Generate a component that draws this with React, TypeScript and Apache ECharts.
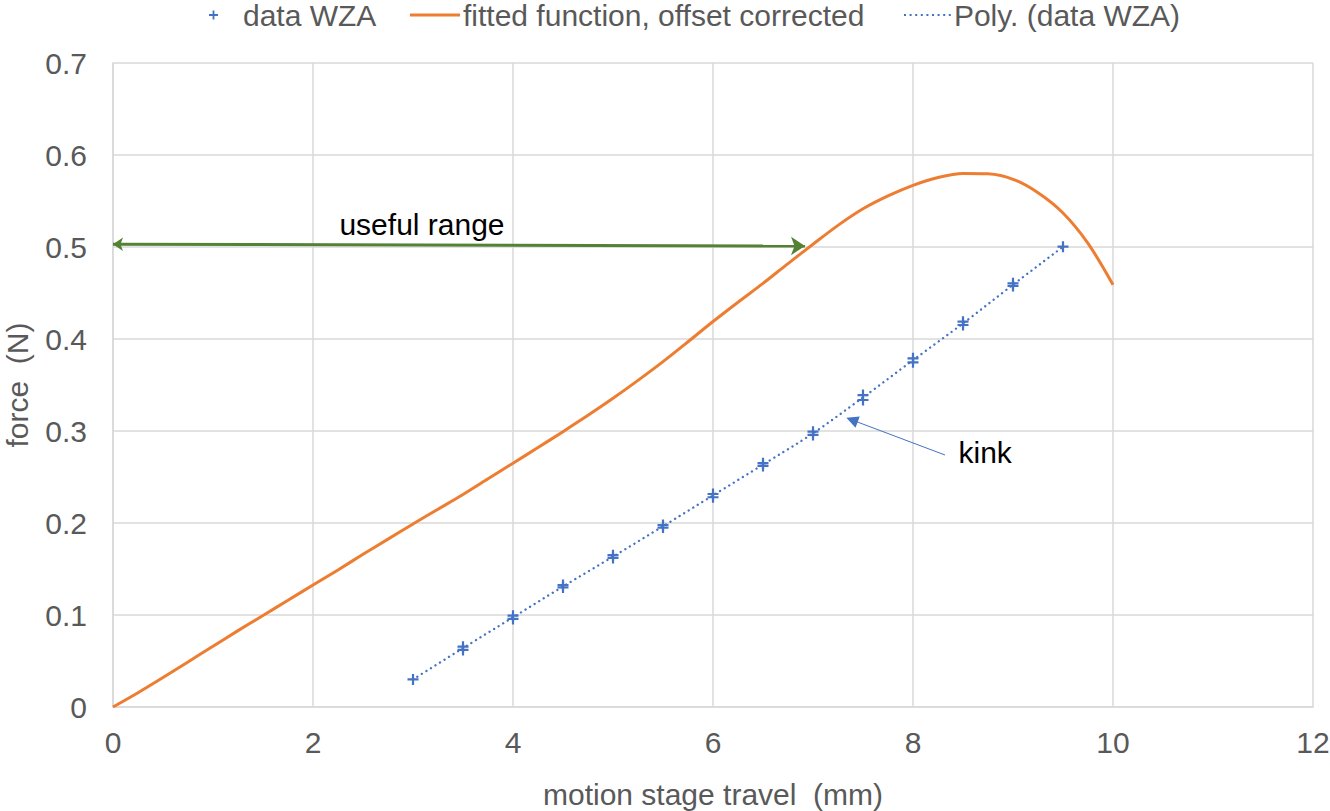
import React, { useEffect, useRef } from "react";
import * as echarts from "echarts";

// ---- data ----
const xTicks = [0, 2, 4, 6, 8, 10, 12];
const yTicks = [0, 0.1, 0.2, 0.3, 0.4, 0.5, 0.6, 0.7];

// measured data WZA (two readings per position)
const dataX = [3, 3.5, 3.5, 4, 4, 4.5, 4.5, 5, 5, 5.5, 5.5, 6, 6, 6.5, 6.5, 7, 7, 7.5, 7.5, 8, 8, 8.5, 8.5, 9, 9, 9.5];
const dataY = [0.030, 0.0656, 0.062, 0.0993, 0.0957, 0.1326, 0.130, 0.165, 0.162, 0.1978, 0.195, 0.2315, 0.228, 0.265, 0.262, 0.2993, 0.2957, 0.339, 0.3337, 0.379, 0.3746, 0.4188, 0.4152, 0.4605, 0.4576, 0.5003];

// fitted function, offset corrected
const fitX = [0, 0.25, 0.5, 0.75, 1, 1.25, 1.5, 1.75, 2, 2.25, 2.5, 2.75, 3, 3.25, 3.5, 3.75, 4, 4.25, 4.5, 4.75, 5, 5.25, 5.5, 5.75, 6, 6.25, 6.5, 6.75, 7, 7.25, 7.5, 7.75, 8, 8.25, 8.5, 8.75, 9, 9.25, 9.5, 9.75, 10];
const fitY = [0, 0.0155, 0.032, 0.049, 0.066, 0.083, 0.0995, 0.116, 0.1326, 0.149, 0.166, 0.1825, 0.199, 0.215, 0.231, 0.248, 0.265, 0.282, 0.2993, 0.317, 0.3355, 0.355, 0.3754, 0.397, 0.419, 0.440, 0.4605, 0.482, 0.503, 0.5235, 0.5415, 0.5555, 0.567, 0.5755, 0.580, 0.5795, 0.5736, 0.559, 0.537, 0.504, 0.459];

// Poly. (data WZA) trendline
const polyX = [3, 3.5, 4, 4.5, 5, 5.5, 6, 6.5, 7, 7.5, 8, 8.5, 9, 9.5];
const polyY = [0.030, 0.064, 0.0975, 0.131, 0.1635, 0.1965, 0.230, 0.2635, 0.2975, 0.3365, 0.377, 0.417, 0.459, 0.5003];

// annotations
const usefulRange = { from: [0, 0.503], to: [6.92, 0.501], label: "useful range", labelAt: [3.09, 0.524] };
const kink = { from: [8.32, 0.2739], to: [7.39, 0.312], label: "kink", labelAt: [8.45, 0.277] };

const seriesNames = ["data WZA", "fitted function, offset corrected", "Poly. (data WZA)"];

const FONT = "'Liberation Sans', Arial, sans-serif";
const GRAY = "#595959";
const FS = 30;
const PLUS = "path://M4,0H6V4H10V6H6V10H4V6H0V4H4Z";
const LINE_ICON = "path://M0,0H50V3H0Z";
const DOT_ICON =
  "path://" +
  Array.from({ length: 9 }, (_, i) => `M${(i * 5.6).toFixed(1)},0h2v2h-2z`).join("");

export default function App() {
  const ref = useRef<HTMLDivElement>(null);
  useEffect(() => {
    if (!ref.current) return;
    const chart = echarts.init(ref.current, undefined, { renderer: "svg" });
    const zip = (xs: number[], ys: number[]) => xs.map((x, i) => [x, ys[i]]);
    const legendText = (pl: number) => ({ fontSize: FS, color: GRAY, fontFamily: FONT, padding: [0, 0, 0, pl] });
    chart.setOption({
      animation: false,
      textStyle: { fontFamily: FONT },
      grid: { left: 113, top: 63, width: 1200, height: 644, containLabel: false, outerBoundsMode: "none" },
      legend: [
        {
          data: [{ name: seriesNames[0], icon: PLUS }],
          left: 209, top: 0, padding: 0, itemWidth: 9, itemHeight: 9, itemGap: 0,
          textStyle: legendText(20),
        },
        {
          data: [{ name: seriesNames[1], icon: LINE_ICON }],
          left: 410, top: 0, padding: 0, itemWidth: 50, itemHeight: 3, itemGap: 0,
          textStyle: legendText(-2),
        },
        {
          data: [{ name: seriesNames[2], icon: DOT_ICON }],
          left: 904, top: 0, padding: 0, itemWidth: 47, itemHeight: 2, itemGap: 0,
          textStyle: legendText(-2),
        },
      ],
      xAxis: {
        type: "value", min: xTicks[0], max: xTicks[xTicks.length - 1], interval: 2,
        name: "motion stage travel  (mm)", nameLocation: "middle", nameGap: 72,
        nameTextStyle: { fontSize: FS, color: GRAY, fontFamily: FONT },
        axisLine: { show: true, lineStyle: { color: "#D9D9D9", width: 1.5 } },
        axisTick: { show: false },
        axisLabel: { fontSize: FS, color: GRAY, margin: 20, fontFamily: FONT },
        splitLine: { show: true, lineStyle: { color: "#D9D9D9", width: 1.5 } },
      },
      yAxis: {
        type: "value", min: yTicks[0], max: yTicks[yTicks.length - 1], interval: 0.1,
        name: "force  (N)", nameLocation: "middle", nameGap: 81,
        nameTextStyle: { fontSize: FS, color: GRAY, fontFamily: FONT },
        axisLine: { show: true, lineStyle: { color: "#D9D9D9", width: 1.5 } },
        axisTick: { show: false },
        axisLabel: {
          fontSize: FS, color: GRAY, margin: 26, fontFamily: FONT,
          formatter: (v: number) => (v === 0 ? "0" : v.toFixed(1)),
        },
        splitLine: { show: true, lineStyle: { color: "#D9D9D9", width: 1.5 } },
      },
      series: [
        {
          name: seriesNames[1],
          type: "line",
          data: zip(fitX, fitY),
          smooth: 0.3,
          showSymbol: false,
          symbol: "none",
          lineStyle: { color: "#ED7D31", width: 3 },
          itemStyle: { color: "#ED7D31" },
          z: 2,
        },
        {
          name: seriesNames[2],
          type: "line",
          data: zip(polyX, polyY),
          smooth: 0.3,
          symbol: "none",
          lineStyle: { color: "#4472C4", width: 2.3, type: [0.1, 5.2], cap: "round" },
          itemStyle: { color: "#4472C4" },
          z: 3,
        },
        {
          name: seriesNames[0],
          type: "scatter",
          data: zip(dataX, dataY),
          symbol: PLUS,
          symbolSize: 11,
          itemStyle: { color: "#4472C4", opacity: 1 },
          z: 4,
        },
        {
          name: "annotations",
          type: "line",
          data: [],
          silent: true,
          markLine: {
            silent: true,
            animation: false,
            label: { show: false },
            emphasis: { disabled: true },
            data: [
              [
                { coord: usefulRange.from, symbol: "arrow", symbolSize: 10, lineStyle: { color: "#548235", width: 3, type: "solid" } },
                { coord: usefulRange.to, symbol: "arrow", symbolSize: 14 },
              ],
              [
                { coord: kink.from, symbol: "none", lineStyle: { color: "#4472C4", width: 1, type: "solid" } },
                { coord: kink.to, symbol: "triangle", symbolSize: 12 },
              ],
            ],
          },
          markPoint: {
            silent: true,
            symbol: "circle",
            symbolSize: 1,
            itemStyle: { color: "transparent" },
            data: [
              {
                coord: usefulRange.labelAt,
                label: { show: true, formatter: usefulRange.label, position: "inside", color: "#000", fontSize: FS, fontFamily: FONT },
              },
              {
                coord: kink.labelAt,
                label: { show: true, formatter: kink.label, position: "right", distance: 0, color: "#000", fontSize: FS, fontFamily: FONT },
              },
            ],
          },
        },
      ],
    });
    return () => chart.dispose();
  }, []);
  return <div ref={ref} style={{ position: "absolute", left: 0, top: 0, width: 1330, height: 811 }} />;
}
